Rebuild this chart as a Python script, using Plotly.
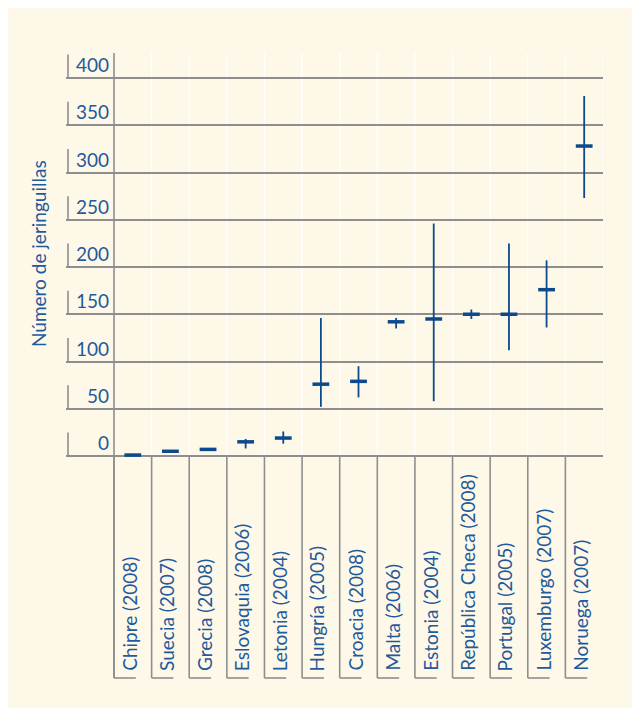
import plotly.graph_objects as go

categories = ["Chipre (2008)", "Suecia (2007)", "Grecia (2008)", "Eslovaquia (2006)",
              "Letonia (2004)", "Hungría (2005)", "Croacia (2008)", "Malta (2006)",
              "Estonia (2004)", "República Checa (2008)", "Portugal (2005)",
              "Luxemburgo (2007)", "Noruega (2007)"]
values = [1, 5, 7, 15, 19, 76, 79, 142, 145, 150, 150, 176, 328]
low = [1, 5, 7, 8, 13, 52, 62, 135, 58, 145, 112, 136, 273]
high = [1, 5, 7, 18, 26, 146, 95, 146, 246, 155, 225, 207, 381]
yticks = [0, 50, 100, 150, 200, 250, 300, 350, 400]
ytitle = "Número de jeringuillas"

BLUE = "#0b4a8c"
TXT = "#1f5a9c"
GRAY = "#8e8e8e"
BG = "#fef8e8"
FONT = "Lato"

W, H = 640, 708
OFF = 8  # page body margin
# pixel geometry (figure coordinates)
px_left, px_right = 66 - OFF, 603 - OFF
px_top, px_bot = 53 - OFF, 681 - OFF
px_axis = 114 - OFF
px_y0, px_y400 = 456 - OFF, 78 - OFF
ppu = (px_y0 - px_y400) / 400.0
ppc = (px_right - px_axis) / 13.0

def yv(py):
    return (px_y0 - (py - OFF)) / ppu

def xv(px):
    return ((px - OFF) - px_axis) / ppc - 0.5

yr = [(px_y0 - px_bot) / ppu, (px_y0 - px_top) / ppu]
xr = [(px_left - px_axis) / ppc - 0.5, 12.5]
ybox = yv(678)

fig = go.Figure()
fig.add_trace(go.Scatter(
    x=categories, y=values, mode="markers",
    marker=dict(symbol="line-ew", size=12, line=dict(width=3.5, color=BLUE), color=BLUE),
    error_y=dict(type="data", symmetric=False,
                 array=[h - v for h, v in zip(high, values)],
                 arrayminus=[v - l for v, l in zip(values, low)],
                 width=0, thickness=1.8, color=BLUE),
    showlegend=False, cliponaxis=False,
))

shapes = []
# white inner separators
for i in range(1, 14):
    shapes.append(dict(type="line", xref="x", yref="y", x0=i - 0.5, x1=i - 0.5, y0=0, y1=yr[1],
                       line=dict(color="white", width=1.2), layer="below"))
# axis line
shapes.append(dict(type="line", xref="x", yref="y", x0=-0.5, x1=-0.5, y0=ybox, y1=yr[1],
                   line=dict(color=GRAY, width=1.6)))
# label boxes
for i in range(13):
    shapes.append(dict(type="line", xref="x", yref="y", x0=i - 0.5, x1=i - 0.5, y0=ybox, y1=0,
                       line=dict(color=GRAY, width=1.6)))
    shapes.append(dict(type="line", xref="x", yref="y", x0=i - 0.5, x1=i - 0.5 + 0.58, y0=ybox, y1=ybox,
                       line=dict(color=GRAY, width=1.6)))
# tick L bars
xbar = xv(68)
for v in yticks:
    shapes.append(dict(type="line", xref="x", yref="y", x0=xbar, x1=xbar, y0=v, y1=v + 25,
                       line=dict(color=GRAY, width=1.6)))

annotations = []
for v in yticks:
    annotations.append(dict(x=-0.5, y=v, xref="x", yref="y", text=str(v), showarrow=False,
                            xanchor="right", yanchor="bottom", xshift=-3, yshift=0,
                            font=dict(family=FONT, size=19, color=TXT)))
for c in categories:
    annotations.append(dict(x=c, y=yv(673), xref="x", yref="y", text=c, showarrow=False,
                            textangle=-90, xanchor="center", yanchor="bottom", xshift=-4,
                            font=dict(family=FONT, size=19, color=TXT)))
annotations.append(dict(x=(38 - OFF - px_left) / (px_right - px_left),
                        y=(px_bot - (254 - OFF)) / (px_bot - px_top),
                        xref="paper", yref="paper", text=ytitle, showarrow=False,
                        textangle=-90, xanchor="center", yanchor="middle",
                        font=dict(family=FONT, size=19, color=TXT)))

fig.update_layout(
    width=W, height=H,
    margin=dict(l=px_left, r=W - px_right, t=px_top, b=H - px_bot, pad=0),
    paper_bgcolor=BG, plot_bgcolor="rgba(0,0,0,0)",
    xaxis=dict(type="category", categoryorder="array", categoryarray=categories,
               range=xr, showgrid=False, showticklabels=False, zeroline=False,
               showline=False, ticks=""),
    yaxis=dict(range=yr, tickvals=yticks, showticklabels=False, showgrid=True,
               gridcolor=GRAY, gridwidth=1.6, zeroline=False, showline=False, ticks=""),
    shapes=shapes, annotations=annotations,
)
fig.write_html("out.html")
